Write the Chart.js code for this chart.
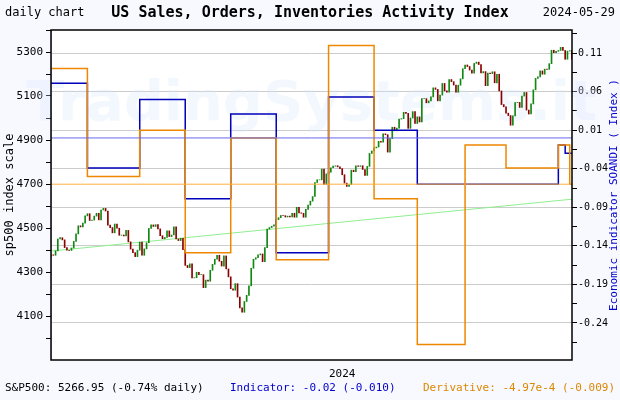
<!DOCTYPE html>
<html><head><meta charset="utf-8">
<script src="https://cdn.jsdelivr.net/npm/chart.js"></script>
<style>html,body{margin:0;padding:0;background:#f8f8ff}#w{width:620px;height:400px}</style>
</head><body><div id="w"><canvas id="c" width="620" height="400"></canvas></div>
<script>
const spClose = [4378,4376,4396,4450,
4456,4446,4411,4399,4398,4409,4439,4473,4510,4505,4522,4555,4565,4534,4536,4554,4567,4537,4582,4589,
4577,4513,4502,4478,4518,4499,4467,4468,4464,4489,4437,4404,4388,4370,4399,4436,4376,4405,4433,4498,4514,4507,
4515,4496,4465,4451,4457,4487,4461,4468,4505,4450,4443,4453,4402,4330,4320,4337,4273,4274,4299,4288,
4288,4229,4263,4258,4308,4335,4358,4376,4349,4327,4373,4314,4278,4224,4217,4247,4186,4137,4117,4166,4194,4237,
4317,4358,4365,4378,4382,4347,4411,4495,4502,4508,4514,4538,4547,4557,4556,4550,4554,4550,4567,4549,4594,
4569,4567,4549,4585,4604,4622,4643,4707,4719,4719,4768,4698,4746,4754,4774,4781,4783,4778,4770,
4742,4704,4689,4697,4763,4756,4783,4780,4783,4766,4739,4780,4839,4850,4864,4868,4894,4890,4928,4924,4845,
4906,4958,4942,4954,4995,4997,5026,5021,4953,5000,5029,4975,5005,4982,5088,5088,5069,5078,5096,
5137,5130,5078,5104,5157,5123,5117,5175,5165,5150,5117,5149,5178,5224,5241,5234,5218,5204,5248,5254,
5243,5205,5211,5147,5204,5202,5210,5160,5199,5123,5061,5051,5022,5011,4967,5010,5070,5071,5048,5100,5116,5036,
5018,5064,5128,5180,5187,5214,5199,5222,5221,5247,5308,5297,5303,5307,5321,5307,5267,5304,5306,5266.95];
const firstOpen = 4370;
const yearTickIndex = 128;
const yearTickLabel = "2024";
const indicatorSteps = [[0,0.071],[16,-0.039],[39,0.05],[59,-0.079],[79,0.031],[99,-0.149],[122,0.053],[142,0.01],[161,-0.06],[200,-0.06],[223,-0.009],[226,-0.02],[230,-0.02]];
const derivativeSteps = [[0,0.09],[16,-0.05],[39,0.01],[59,-0.149],[79,0.0],[99,-0.158],[122,0.12],[142,-0.079],[161,-0.268],[182,-0.009],[200,-0.039],[223,-0.009],[228,-0.06],[230,-0.06]];
const trendLine = [[0,4395],[230,4632]];
const indicatorZero = 0.0, derivativeZero = -0.06;
const rightTicks = [0.11,0.06,0.01,-0.04,-0.09,-0.14,-0.19,-0.24];
const leftLabels = [4100,4300,4500,4700,4900,5100,5300];

const bars = spClose.map((c,i)=>({x:i,y:[i?spClose[i-1]:firstOpen,c]}));
const barColors = spClose.map((c,i)=> c >= (i?spClose[i-1]:firstOpen) ? '#118811' : '#8b0000');
const N = spClose.length-1;

const textPlugin = {id:'txt',
 beforeDatasetsDraw(ch){const x=ch.ctx,a=ch.chartArea;x.save();
  x.font='bold 56px "DejaVu Sans"';x.fillStyle='rgba(215,232,255,0.3)';x.textAlign='center';x.textBaseline='middle';
  x.fillText('TradingSystems.it',(a.left+a.right)/2,105);x.restore();},
 afterDraw(ch){const x=ch.ctx,a=ch.chartArea;x.save();
  x.textBaseline='middle';
  x.font='bold 15px "DejaVu Sans Mono"';x.fillStyle='#000';x.textAlign='center';
  x.fillText('US Sales, Orders, Inventories Activity Index',310,13);
  x.font='12px "DejaVu Sans Mono"';x.textAlign='left';x.fillText('daily chart',5,13);
  x.textAlign='right';x.fillText('2024-05-29',615,13);
  x.font='11px "DejaVu Sans Mono"';x.textAlign='left';x.fillText('S&P500: 5266.95 (-0.74% daily)',5,388);
  x.fillStyle='#0000cc';x.fillText('Indicator: -0.02 (-0.010)',230,388);
  x.fillStyle='#dd8800';x.textAlign='right';x.fillText('Derivative: -4.97e-4 (-0.009)',615,388);
  x.fillStyle='#000';x.textAlign='center';x.fillText(yearTickLabel,ch.scales.x.getPixelForValue(yearTickIndex),374);
  x.font='12px "DejaVu Sans Mono"';
  x.translate(10,(a.top+a.bottom)/2);x.rotate(-Math.PI/2);x.fillText('sp500 index scale',0,0);x.restore();
  x.save();x.font='11px "DejaVu Sans Mono"';x.fillStyle='#0000cc';x.textAlign='center';x.textBaseline='middle';
  x.translate(614,(a.top+a.bottom)/2);x.rotate(-Math.PI/2);x.fillText('Economic indicator SOANDI ( Index )',0,0);x.restore();
  x.save();x.strokeStyle='#000';x.lineWidth=1.5;x.strokeRect(a.left,a.top,a.right-a.left,a.bottom-a.top);x.restore();
 }};
const plotBg={id:'bg',beforeDraw(ch){const x=ch.ctx,a=ch.chartArea;x.save();x.fillStyle='#f8f8ff';x.fillRect(0,0,620,400);x.fillStyle='#fff';x.fillRect(a.left,a.top,a.right-a.left,a.bottom-a.top);x.restore();}};

new Chart(document.getElementById('c'),{
 data:{datasets:[
  {type:'line',data:[{x:0,y:indicatorZero},{x:N,y:indicatorZero}],yAxisID:'yr',borderColor:'#6666ee',borderWidth:1,pointRadius:0,order:0},
  {type:'line',data:[{x:0,y:derivativeZero},{x:N,y:derivativeZero}],yAxisID:'yr',borderColor:'#ffb040',borderWidth:1,pointRadius:0,order:1},
  {type:'line',data:derivativeSteps.map(p=>({x:p[0],y:p[1]})),yAxisID:'yr',stepped:'before',borderColor:'#ee8800',borderWidth:1.5,pointRadius:0,order:2},
  {type:'line',data:indicatorSteps.map(p=>({x:p[0],y:p[1]})),yAxisID:'yr',stepped:'before',borderColor:'#0000bb',borderWidth:1.5,pointRadius:0,order:3},
  {type:'bar',data:bars,yAxisID:'y',backgroundColor:barColors,barThickness:1,borderWidth:0,order:4},
  {type:'line',data:trendLine.map(p=>({x:p[0],y:p[1]})),yAxisID:'y',borderColor:'#90ee90',borderWidth:1,pointRadius:0,order:5}
 ]},
 options:{responsive:false,animation:false,events:[],
  layout:{padding:{top:30,bottom:40,left:0,right:0}},
  plugins:{legend:{display:false},tooltip:{enabled:false}},
  scales:{
   x:{type:'linear',min:0,max:N,offset:false,
      afterBuildTicks(s){s.ticks=[{value:yearTickIndex}];},
      ticks:{display:false},grid:{color:'#cccccc',drawTicks:false},border:{display:false}},
   y:{position:'left',min:3900,max:5400,
      afterBuildTicks(s){s.ticks=[];for(let v=4000;v<=5400;v+=100)s.ticks.push({value:v});},
      afterFit(s){s.width=51;},
      ticks:{font:{family:'DejaVu Sans Mono',size:11},color:'#000',padding:3,callback:v=>leftLabels.includes(v)?String(v):''},
      grid:{drawOnChartArea:false,tickLength:5,color:'#000'},border:{display:false}},
   yr:{position:'right',min:-0.288,max:0.14,
      afterBuildTicks(s){s.ticks=[];for(let k=0;k<17;k++)s.ticks.push({value:+(0.135-k*0.025).toFixed(3)});},
      afterFit(s){s.width=48;},
      ticks:{font:{family:'DejaVu Sans Mono',size:10},color:'#000',padding:1,callback:v=>{const r=rightTicks.find(t=>Math.abs(t-v)<1e-6);return r===undefined?'':(r>=0?r.toFixed(2):'-'+Math.abs(r).toFixed(2));}},
      grid:{tickLength:5,color:c=>rightTicks.some(t=>Math.abs(t-c.tick.value)<1e-6)?'#cccccc':'rgba(0,0,0,0)',tickColor:'#000'},border:{display:false}}
  }},
 plugins:[plotBg,textPlugin]
});
</script></body></html>
